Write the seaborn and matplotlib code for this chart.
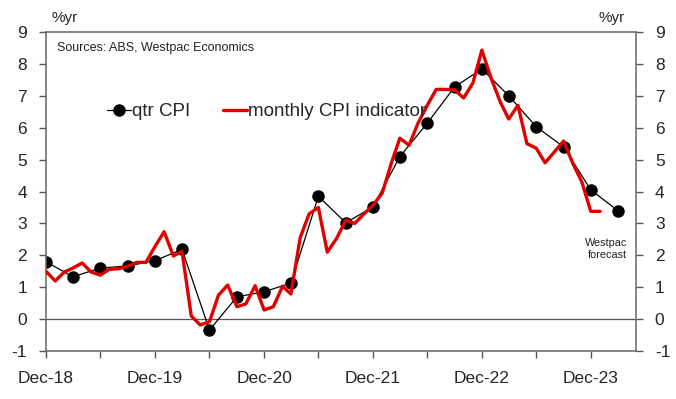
"""
Australian CPI: quarterly vs monthly indicator, year-ended % change
"""

import pandas as pd
import matplotlib.pyplot as plt
import seaborn as sns

# Quarterly CPI, %yr (Dec-18 .. Mar-24, last two are Westpac forecasts)
qtr_dates = pd.date_range('2018-12-01', '2024-03-01', freq='3MS')
qtr_cpi = [1.8, 1.33, 1.6, 1.67, 1.83, 2.19, -0.34, 0.7, 0.86, 1.13, 3.85,
           3.02, 3.52, 5.09, 6.14, 7.28, 7.84, 7.0, 6.03, 5.4, 4.05, 3.4]

# Monthly CPI indicator, %yr (Dec-18 .. Jan-24)
month_dates = pd.date_range('2018-12-01', '2024-01-01', freq='MS')
monthly_cpi = [
    1.5,
    1.2, 1.48, 1.6, 1.76, 1.48, 1.38, 1.56, 1.58, 1.66, 1.78, 1.78, 2.27,
    2.74, 1.98, 2.13, 0.1, -0.18, -0.08, 0.75, 1.07, 0.39, 0.48, 1.05, 0.29,
    0.39, 1.03, 0.79, 2.55, 3.3, 3.5, 2.1, 2.53, 3.1, 3.0, 3.3, 3.57,
    3.95, 4.9, 5.67, 5.45, 6.14, 6.7, 7.2, 7.2, 7.18, 6.93, 7.4, 8.43,
    7.55, 6.8, 6.27, 6.7, 5.5, 5.36, 4.9, 5.24, 5.58, 4.9, 4.3, 3.38,
    3.38,
]

y_ticks = list(range(-1, 10))
tick_dates = pd.date_range('2018-12-01', '2023-12-01', freq='6MS')
tick_labels = [d.strftime('Dec-%y') if d.month == 12 else '' for d in tick_dates]

sns.set_style('white')
plt.rcParams['font.family'] = ['Liberation Sans', 'DejaVu Sans']
plt.rcParams['axes.unicode_minus'] = False

qtr_df = pd.DataFrame({'date': qtr_dates, 'value': qtr_cpi})
month_df = pd.DataFrame({'date': month_dates, 'value': monthly_cpi})

fig, ax = plt.subplots(figsize=(6.76, 3.99), dpi=100)
fig.subplots_adjust(left=0.068, right=0.941, top=0.92, bottom=0.12)

ax.axhline(0, color='#555555', lw=0.9, zorder=1)

sns.lineplot(data=qtr_df, x='date', y='value', ax=ax, color='black', lw=0.9,
             marker='o', markersize=9, markeredgewidth=0, label='qtr CPI', zorder=2)
sns.lineplot(data=month_df, x='date', y='value', ax=ax, color='#E00000', lw=2.4,
             label='monthly CPI indicator', zorder=3)

ax.set_xlim(pd.Timestamp('2018-12-01'), pd.Timestamp('2024-05-01'))
ax.set_ylim(-1, 9)
ax.set_yticks(y_ticks)
ax.set_xticks(tick_dates)
ax.set_xticklabels(tick_labels)
ax.set_xlabel('')
ax.set_ylabel('')

ax.tick_params(axis='y', left=True, right=True, labelleft=True, labelright=True,
               direction='out', length=5, width=1, color='#555555',
               labelsize=12.5, pad=8.5)
ax.tick_params(axis='x', bottom=True, direction='out', length=5, width=1,
               color='#555555', labelsize=12.5, pad=9)
for s in ax.spines.values():
    s.set_color('#666666')
    s.set_linewidth(1.1)

leg = ax.legend(loc='center left', bbox_to_anchor=(0.075, 0.75), ncol=2,
                frameon=False, fontsize=13.5, handlelength=1.3,
                handletextpad=0.05, columnspacing=1.7)

ax.text(0.019, 0.95, 'Sources: ABS, Westpac Economics', transform=ax.transAxes,
        fontsize=9, ha='left', va='center', color='#222222')
ax.text(0.985, 0.32, 'Westpac\nforecast', transform=ax.transAxes,
        fontsize=7.8, ha='right', va='center', color='#222222', linespacing=1.35)

fig.text(52 / 676, 1 - 18 / 399, '%yr', fontsize=11, ha='left', va='center')
fig.text(625 / 676, 1 - 18 / 399, '%yr', fontsize=11, ha='right', va='center')

fig.savefig('out.png', dpi=100)
